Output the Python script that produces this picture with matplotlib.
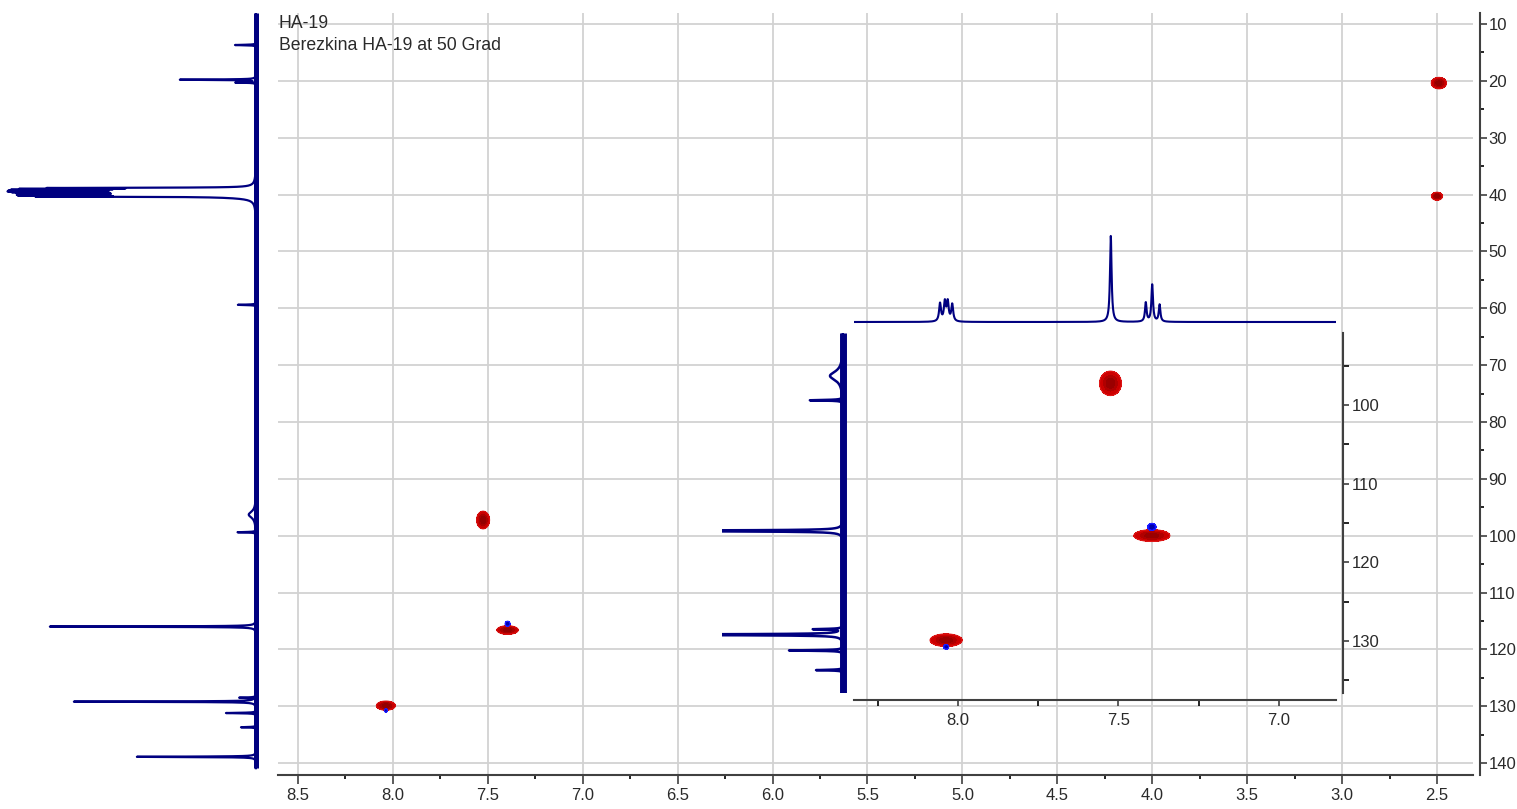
import numpy as np
import matplotlib
matplotlib.use("Agg")
import matplotlib.pyplot as plt
from matplotlib.ticker import MultipleLocator, FixedLocator, FormatStrFormatter

plt.rcParams['font.family'] = ['Liberation Sans', 'DejaVu Sans']

# ---------------- data ----------------
title_lines = ["HA-19", "Berezkina HA-19 at 50 Grad"]

# 13C (F1) projection peaks: position (ppm), relative intensity, half width (ppm)
c13_ppm = [13.7, 19.8, 20.3,
           38.85, 39.0, 39.15, 39.3, 39.45, 39.6, 39.75, 39.9, 40.05, 40.2, 40.35, 40.4,
           59.4, 96.3, 99.4, 116.0, 128.5, 129.2, 131.2, 133.7, 138.9]
c13_int = [8.7, 31.5, 8.3,
           74, 78, 79, 79, 79, 77, 75, 74, 74, 73, 70, 10,
           7.5, 3.0, 7.5, 85.5, 6.6, 75.5, 12.4, 6.2, 49.4]
c13_hw = [0.05, 0.05, 0.05,
          0.05, 0.05, 0.05, 0.05, 0.05, 0.05, 0.05, 0.05, 0.05, 0.05, 0.05, 0.3,
          0.05, 0.7, 0.05, 0.05, 0.05, 0.05, 0.05, 0.05, 0.05]

# 1H (F2) projection peaks in the expanded inset
h1_ppm = [8.056, 8.041, 8.032, 8.018, 7.524, 7.415, 7.395, 7.372]
h1_int = [18, 19, 19, 17, 86, 19, 37, 17]
h1_hw = [0.0035, 0.0035, 0.0035, 0.0035, 0.003, 0.003, 0.003, 0.003]

# HSQC cross peaks (positive phase): 1H ppm, 13C ppm, half extents
xp_h = [2.49, 2.50, 7.525, 7.396, 8.037]
xp_c = [20.4, 40.3, 97.25, 116.6, 129.9]
xp_sh = [0.040, 0.029, 0.034, 0.056, 0.050]
xp_sc = [1.0, 0.7, 1.55, 0.75, 0.8]

# negative phase (blue) cross peaks
neg_h = [7.396, 8.037]
neg_c = [115.5, 130.75]
neg_sh = [0.013, 0.008]
neg_sc = [0.45, 0.3]

main_x_ticks = [8.5, 8.0, 7.5, 7.0, 6.5, 6.0, 5.5, 5.0, 4.5, 4.0, 3.5, 3.0, 2.5]
main_y_ticks = [10, 20, 30, 40, 50, 60, 70, 80, 90, 100, 110, 120, 130, 140]
inset_x_ticks = [8.0, 7.5, 7.0]
inset_y_ticks = [100, 110, 120, 130]

# ---------------- helpers ----------------
W, H = 1517, 809
SPEC = '#000080'
GRID = '#d2d2d2'
SPINE = '#404040'
TXT = '#2a2a2a'


def spectrum(axis_ppm, pos, amp, hw):
    s = np.zeros_like(axis_ppm)
    for p, a, w in zip(pos, amp, hw):
        s += a / (1.0 + ((axis_ppm - p) / w) ** 2)
    return s


def draw_cross_peaks(ax, hs, cs, shs, scs, fill_colors, edge_color):
    for h, c, sh, sc in zip(hs, cs, shs, scs):
        hx = np.linspace(h - 1.6 * sh, h + 1.6 * sh, 241)
        cy = np.linspace(c - 1.6 * sc, c + 1.6 * sc, 241)
        X, Y = np.meshgrid(hx, cy)
        sx, sy = sh / 2.146, sc / 2.146
        Z = np.exp(-0.5 * ((X - h) / sx) ** 2 - 0.5 * ((Y - c) / sy) ** 2)
        ax.contourf(X, Y, Z, levels=[0.1, 0.4, 0.7, 1.01], colors=fill_colors, zorder=3)
        ax.contour(X, Y, Z, levels=[0.1], colors=[edge_color], linewidths=0.8, zorder=3)


def style_ticks(ax, fs=12):
    ax.tick_params(colors=SPINE, labelcolor=TXT, labelsize=fs)


fig = plt.figure(figsize=(W / 100, H / 100), dpi=100)

# ---------------- main 2D axes ----------------
m_left, m_right, m_top, m_bot = 278, 1473, 13, 775
ax = fig.add_axes([m_left / W, 1 - m_bot / H, (m_right - m_left) / W, (m_bot - m_top) / H])
ax.set_xlim(8.6054, 2.3103)
ax.set_ylim(142.1, 8.07)
ax.patch.set_alpha(0)
ax.xaxis.set_major_locator(FixedLocator(main_x_ticks))
ax.xaxis.set_minor_locator(MultipleLocator(0.25))
ax.yaxis.set_major_locator(FixedLocator(main_y_ticks))
ax.yaxis.set_minor_locator(MultipleLocator(5))
ax.xaxis.set_major_formatter(FormatStrFormatter('%.1f'))
ax.yaxis.set_major_formatter(FormatStrFormatter('%d'))
ax.yaxis.tick_right()
for s in ('top', 'left'):
    ax.spines[s].set_visible(False)
for s in ('right', 'bottom'):
    ax.spines[s].set_color(SPINE)
    ax.spines[s].set_linewidth(1.5)
ax.spines['right'].set_position(('outward', 5))
ax.grid(True, which='major', color=GRID, lw=1.3, zorder=0)
ax.set_axisbelow(True)
ax.tick_params(axis='x', which='major', direction='out', length=6.5, width=1.2, pad=3)
ax.tick_params(axis='x', which='minor', direction='out', length=3, width=1.2)
ax.tick_params(axis='y', which='major', direction='out', length=5, width=1.2, pad=1)
ax.tick_params(axis='y', which='minor', direction='out', length=3, width=1.2)
style_ticks(ax)
draw_cross_peaks(ax, xp_h, xp_c, xp_sh, xp_sc, ['#c80000', '#a80000', '#940000'], '#d81010')
draw_cross_peaks(ax, neg_h, neg_c, neg_sh, neg_sc, ['#1010ff', '#0000cc', '#0000aa'], '#2020ff')

# ---------------- main F1 (13C) projection on the left ----------------
axl = fig.add_axes([0, 1 - m_bot / H, m_left / W, (m_bot - m_top) / H])
axl.axis('off')
axl.set_ylim(142.1, 8.07)
axl.set_xlim(106.2, -9.13)
c_axis = np.arange(8.07, 140.9, 0.01)
axl.plot([0, 0], [8.07, 140.9], color=SPEC, lw=3.6, solid_capstyle='butt')
axl.plot(spectrum(c_axis, c13_ppm, c13_int, c13_hw), c_axis, color=SPEC, lw=1.6)

# ---------------- expanded inset ----------------
i_left, i_right, i_top, i_bot = 854, 1336, 333, 693
axi = fig.add_axes([i_left / W, 1 - i_bot / H, (i_right - i_left) / W, (i_bot - i_top) / H])
axi.patch.set_alpha(0)
axi.set_xlim(8.324, 6.8224)
axi.set_ylim(136.61, 90.85)
axi.xaxis.set_major_locator(FixedLocator(inset_x_ticks))
axi.xaxis.set_minor_locator(FixedLocator([8.25, 7.75, 7.25]))
axi.yaxis.set_major_locator(FixedLocator(inset_y_ticks))
axi.yaxis.set_minor_locator(FixedLocator([95, 105, 115, 125, 135]))
axi.xaxis.set_major_formatter(FormatStrFormatter('%.1f'))
axi.yaxis.set_major_formatter(FormatStrFormatter('%d'))
axi.yaxis.tick_right()
for s in ('top', 'left'):
    axi.spines[s].set_visible(False)
for s in ('right', 'bottom'):
    axi.spines[s].set_color(SPINE)
    axi.spines[s].set_linewidth(1.5)
    axi.spines[s].set_position(('outward', 5))
axi.tick_params(axis='both', which='major', direction='out', length=4.5, width=1.2)
axi.tick_params(axis='both', which='minor', direction='out', length=4, width=1.2)
axi.tick_params(axis='x', which='major', pad=5)
axi.tick_params(axis='y', which='major', pad=1.5)
style_ticks(axi)
draw_cross_peaks(axi, xp_h, xp_c, xp_sh, xp_sc, ['#cc0000', '#b00000', '#9a0000'], '#e01818')
draw_cross_peaks(axi, neg_h, neg_c, neg_sh, neg_sc, ['#1010ff', '#0000dd', '#0000aa'], '#2020ff')

# inset F1 projection (left of inset)
p_left = 722
axl2 = fig.add_axes([p_left / W, 1 - i_bot / H, (i_left - p_left) / W, (i_bot - i_top) / H])
axl2.axis('off')
axl2.set_ylim(136.61, 90.85)
axl2.set_xlim(27.9, -2.53)
c_axis2 = np.arange(90.85, 136.61, 0.005)
axl2.plot([0, 0], [90.85, 136.61], color=SPEC, lw=5.0, solid_capstyle='butt')
axl2.plot(spectrum(c_axis2, c13_ppm, c13_int, c13_hw), c_axis2, color=SPEC, lw=1.8)

# inset F2 projection (top of inset)
t_top, t_bot = 225, 330
axt = fig.add_axes([i_left / W, 1 - t_bot / H, (i_right - i_left) / W, (t_bot - t_top) / H])
axt.axis('off')
axt.set_xlim(8.324, 6.8224)
axt.set_ylim(-8, 97)
h_axis = np.linspace(8.324, 6.8224, 6000)
axt.plot(h_axis, spectrum(h_axis, h1_ppm, h1_int, h1_hw), color=SPEC, lw=1.5)

# ---------------- title text ----------------
fig.text(279 / W, 1 - 23 / H, title_lines[0], ha='left', va='center', fontsize=12.7, color=TXT)
fig.text(279 / W, 1 - 46 / H, title_lines[1], ha='left', va='center', fontsize=12.7, color=TXT)

fig.savefig('out.png', dpi=100)
